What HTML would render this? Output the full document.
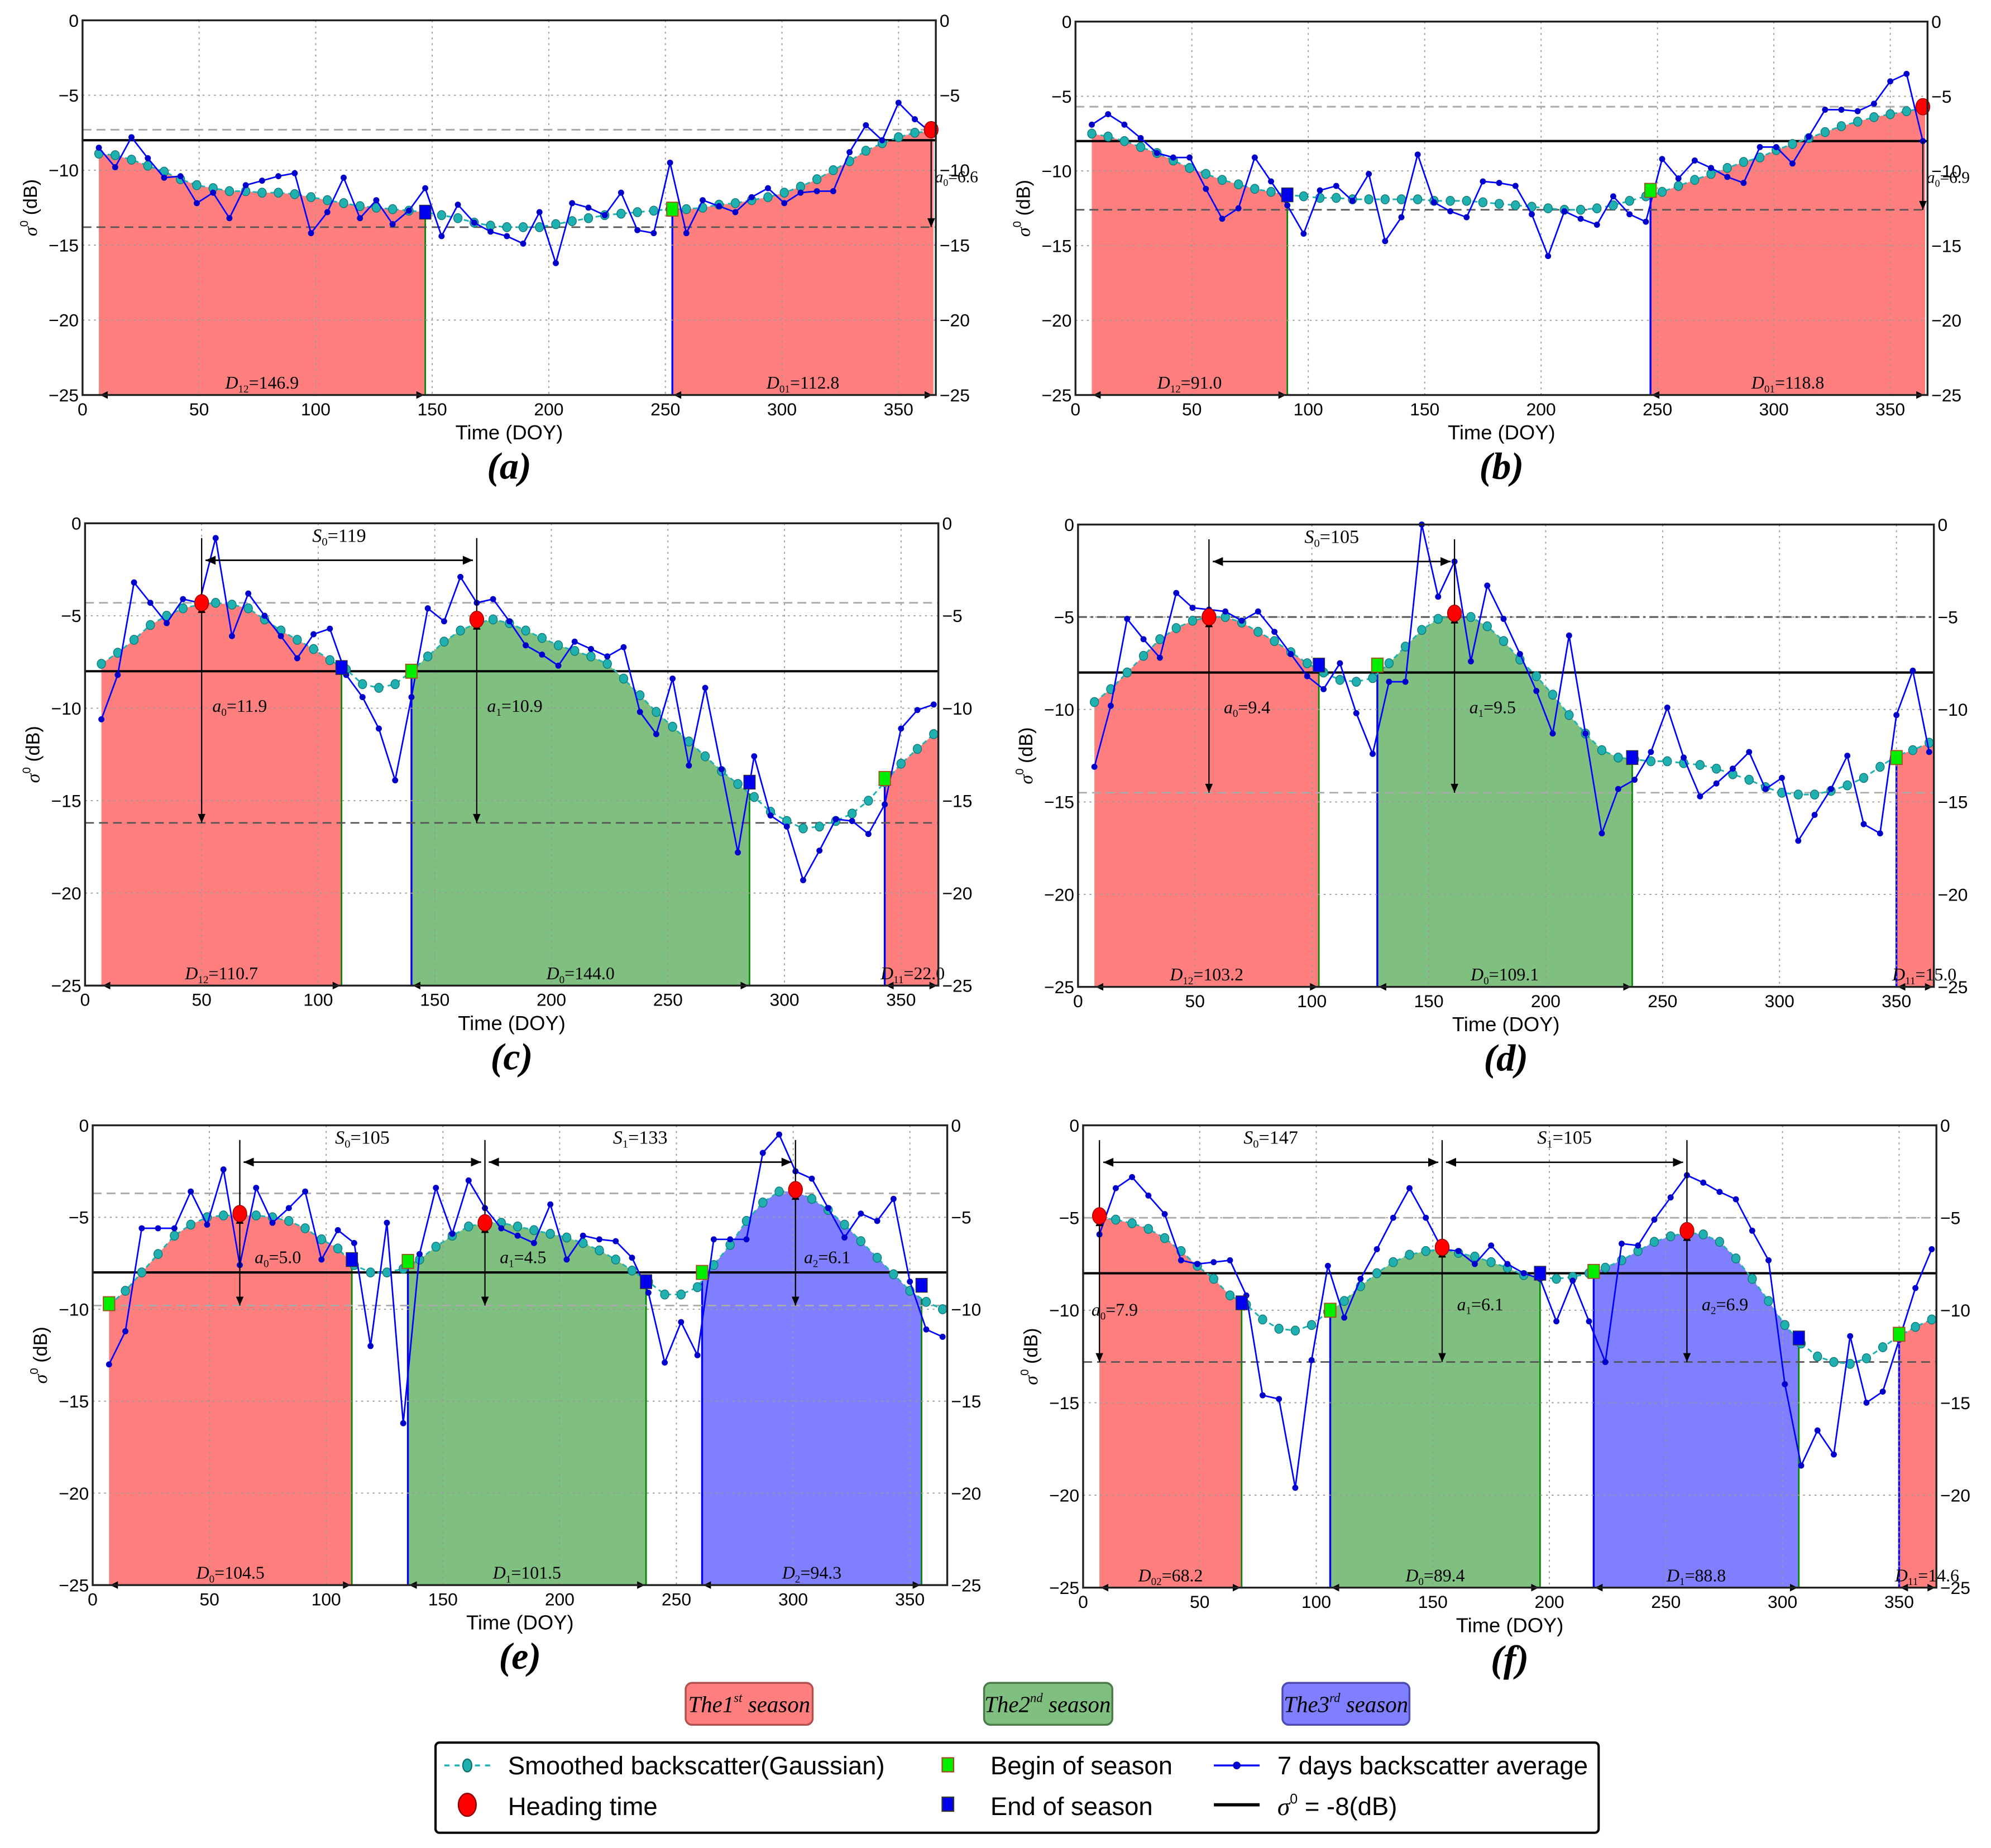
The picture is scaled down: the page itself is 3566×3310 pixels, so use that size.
<!DOCTYPE html>
<html><head><meta charset="utf-8">
<style>
html,body{margin:0;padding:0;background:#fff;}
svg{display:block;}
</style></head>
<body>
<svg id="fig" xmlns="http://www.w3.org/2000/svg" width="3566" height="3310" viewBox="0 0 1568 1455" preserveAspectRatio="none" font-family="Liberation Sans, sans-serif">
<g id="panels"></g>
<g id="legend">
  <g>
    <rect x="540" y="1325" width="100" height="33" rx="5" fill="#ff7f7f" stroke="#b05050" stroke-width="1.5"/>
    <text x="590" y="1348" text-anchor="middle" font-family="Liberation Serif, serif" font-style="italic" font-size="18">The1<tspan font-size="10" dy="-8">st</tspan><tspan dy="8"> season</tspan></text>
  </g>
  <g>
    <rect x="775" y="1325" width="101" height="33" rx="5" fill="#7fbf7f" stroke="#4a7a4a" stroke-width="1.5"/>
    <text x="825" y="1348" text-anchor="middle" font-family="Liberation Serif, serif" font-style="italic" font-size="18">The2<tspan font-size="10" dy="-8">nd</tspan><tspan dy="8"> season</tspan></text>
  </g>
  <g>
    <rect x="1010" y="1325" width="100" height="33" rx="5" fill="#7f7fff" stroke="#4a4ab0" stroke-width="1.5"/>
    <text x="1060" y="1348" text-anchor="middle" font-family="Liberation Serif, serif" font-style="italic" font-size="18">The3<tspan font-size="10" dy="-8">rd</tspan><tspan dy="8"> season</tspan></text>
  </g>
  <rect x="343" y="1372" width="916" height="71" rx="3" fill="#fff" stroke="#000" stroke-width="1.8"/>
  <g>
    <line x1="350" y1="1390" x2="386" y2="1390" stroke="#20b2b2" stroke-width="1.5" stroke-dasharray="4,4"/>
    <ellipse cx="368" cy="1390" rx="3.5" ry="5" fill="#20b0b0" stroke="#107070"/>
    <text x="400" y="1397" font-size="20">Smoothed backscatter(Gaussian)</text>
  </g>
  <g>
    <ellipse cx="368" cy="1421" rx="7" ry="9" fill="#ff0000" stroke="#800"/>
    <text x="400" y="1429" font-size="20">Heading time</text>
  </g>
  <g>
    <rect x="742" y="1384" width="9" height="11" fill="#00ee00" stroke="#a05020"/>
    <text x="780" y="1397" font-size="20">Begin of season</text>
  </g>
  <g>
    <rect x="742" y="1415" width="9" height="11" fill="#0000ee" stroke="#333"/>
    <text x="780" y="1429" font-size="20">End of season</text>
  </g>
  <g>
    <line x1="956" y1="1390" x2="992" y2="1390" stroke="#0000ff" stroke-width="1.5"/>
    <circle cx="974" cy="1390" r="3" fill="#0000cc"/>
    <text x="1006" y="1397" font-size="20">7 days backscatter average</text>
  </g>
  <g>
    <line x1="956" y1="1421" x2="992" y2="1421" stroke="#000" stroke-width="2.5"/>
    <text x="1006" y="1429" font-size="20"><tspan font-family="Liberation Serif, serif" font-style="italic">σ</tspan><tspan font-size="11" dy="-9">0</tspan><tspan dy="9"> = -8(dB)</tspan></text>
  </g>
</g>
</svg>
<script>
const days=[7,14,21,28,35,42,49,56,63,70,77,84,91,98,105,112,119,126,133,140,147,154,161,168,175,182,189,196,203,210,217,224,231,238,245,252,259,266,273,280,287,294,301,308,315,322,329,336,343,350,357,364];
const xTicks=[0,50,100,150,200,250,300,350];
const yTicks=[0,-5,-10,-15,-20,-25];

const aWeekly=[-8.5,-9.8,-7.8,-9.2,-10.5,-10.4,-12.2,-11.5,-13.2,-11,-10.7,-10.4,-10.2,-14.2,-12.8,-10.5,-13.2,-12,-13.6,-12.7,-11.2,-14.4,-12.3,-13.5,-14.1,-14.4,-14.9,-12.8,-16.2,-12.2,-12.5,-13,-11.5,-14,-14.2,-9.5,-14.2,-12,-12.4,-12.8,-11.8,-11.2,-12.2,-11.5,-11.4,-11.4,-8.8,-7,-8,-5.5,-6.6,-7.5];
const aSmooth=[-8.9,-9,-9.3,-9.7,-10.1,-10.6,-11,-11.2,-11.4,-11.4,-11.5,-11.5,-11.6,-11.8,-12,-12.2,-12.4,-12.5,-12.6,-12.7,-12.8,-13,-13.2,-13.5,-13.7,-13.8,-13.8,-13.8,-13.6,-13.4,-13.2,-13,-12.9,-12.8,-12.7,-12.6,-12.6,-12.5,-12.3,-12.2,-12,-11.8,-11.5,-11.1,-10.6,-10,-9.4,-8.7,-8.2,-7.8,-7.5,-7.4];
const bWeekly=[-6.9,-6.2,-6.9,-7.8,-8.8,-9.1,-9.1,-11.2,-13.2,-12.5,-9.1,-10.7,-12.3,-14.2,-11.3,-11,-12,-10.2,-14.7,-13.1,-8.9,-12.1,-12.7,-13.1,-10.7,-10.8,-11,-12.9,-15.7,-12.7,-13.2,-13.6,-11.7,-12.9,-13.4,-9.2,-10.5,-9.3,-9.8,-10.4,-10.8,-8.4,-8.4,-9.5,-7.7,-5.9,-5.9,-6,-5.5,-4,-3.5,-8];
const bSmooth=[-7.5,-7.7,-8,-8.4,-8.8,-9.3,-9.8,-10.2,-10.6,-10.9,-11.2,-11.4,-11.6,-11.7,-11.8,-11.8,-11.9,-11.9,-11.9,-11.9,-11.9,-12,-12,-12,-12.1,-12.2,-12.3,-12.4,-12.5,-12.6,-12.6,-12.5,-12.3,-12,-11.7,-11.4,-11,-10.6,-10.2,-9.8,-9.4,-9.1,-8.6,-8.2,-7.8,-7.4,-7,-6.7,-6.4,-6.2,-6,-5.8];
const cWeekly=[-10.6,-8.2,-3.2,-4.3,-5.4,-4.1,-4.3,-0.8,-6.1,-3.8,-5,-6.1,-7.3,-6,-5.7,-8.2,-9.4,-11.1,-13.9,-9.4,-4.6,-5.3,-2.9,-4.3,-4.1,-5.3,-6.6,-7.1,-7.7,-6.4,-6.8,-7.2,-6.7,-10.2,-11.4,-8.4,-13.1,-8.9,-13.3,-17.8,-12.6,-15.8,-16.4,-19.3,-17.7,-16,-16.1,-16.8,-15.2,-11.1,-10.1,-9.8];
const cSmooth=[-7.6,-7,-6.3,-5.5,-5,-4.6,-4.4,-4.3,-4.4,-4.6,-5.2,-5.8,-6.3,-6.8,-7.4,-7.9,-8.7,-8.9,-8.7,-8,-7.2,-6.4,-5.8,-5.4,-5.2,-5.4,-5.8,-6.2,-6.6,-6.9,-7.2,-7.6,-8.4,-9.3,-10.2,-11,-11.8,-12.6,-13.4,-14.1,-14.8,-15.6,-16.1,-16.5,-16.4,-16.1,-15.7,-15,-14,-13,-12.2,-11.4];
const dWeekly=[-13.1,-9.8,-5.1,-6.2,-7.2,-3.7,-4.5,-4.6,-4.7,-5.2,-4.7,-5.8,-7,-8.2,-8.9,-7.5,-10.2,-12.4,-8.5,-8.5,0,-3.9,-2,-7.4,-3.3,-5.1,-7,-9,-11.3,-6,-11.3,-16.7,-14.3,-13.8,-12.3,-9.9,-12.6,-14.7,-14,-13.2,-12.3,-14.3,-13.7,-17.1,-15.7,-14.3,-12.5,-16.2,-16.7,-10.3,-7.9,-12.3];
const dSmooth=[-9.6,-8.9,-8,-7.1,-6.2,-5.6,-5.2,-5,-5,-5.3,-5.8,-6.3,-6.9,-7.5,-8,-8.4,-8.5,-8.3,-7.5,-6.6,-5.7,-5.1,-4.9,-5,-5.5,-6.3,-7.3,-8.2,-9.2,-10.3,-11.3,-12.2,-12.6,-12.7,-12.8,-12.8,-12.9,-13,-13.2,-13.5,-13.8,-14.2,-14.5,-14.6,-14.6,-14.4,-14.1,-13.7,-13.1,-12.5,-12.2,-11.8];
const eWeekly=[-13,-11.2,-5.6,-5.6,-5.6,-3.6,-5.4,-2.4,-7.6,-3.4,-5.3,-4.5,-3.6,-7.3,-5.7,-6.4,-12,-5.3,-16.2,-7,-3.4,-5.9,-3,-4.5,-5.6,-6,-6.4,-4.3,-7.3,-6,-6.2,-6.3,-7.2,-9.1,-12.9,-10.7,-12.5,-6.2,-6.2,-6.2,-1.5,-0.5,-2.5,-2.9,-4.5,-6.1,-4.8,-5.2,-4,-8.5,-11.1,-11.5];
const eSmooth=[-9.8,-9,-8,-7,-6,-5.4,-5,-4.9,-4.9,-4.9,-5,-5.2,-5.6,-6.2,-6.7,-7.6,-8,-8,-7.8,-7.3,-6.6,-6,-5.5,-5.3,-5.3,-5.5,-5.7,-5.9,-6.1,-6.4,-6.8,-7.3,-7.9,-8.5,-9.2,-9.2,-8.8,-7.6,-6.5,-5.2,-4.2,-3.6,-3.6,-4,-4.6,-5.4,-6.3,-7.2,-8.1,-9,-9.6,-10];
const fWeekly=[-5.9,-3.4,-2.8,-3.8,-4.8,-7.3,-7.5,-7.4,-7.3,-9.2,-14.6,-14.8,-19.6,-12.7,-7.6,-10.4,-8.3,-6.7,-5,-3.4,-5,-6.7,-6.8,-7.5,-6.5,-7.5,-8.0,-8.3,-10.6,-8.4,-10.6,-12.8,-6.4,-6.5,-5.1,-3.9,-2.7,-3.1,-3.6,-4,-5.7,-7.3,-14,-18.4,-16.5,-17.8,-11.4,-15,-14.4,-11.6,-8.8,-6.7];
const fSmooth=[-5,-5.1,-5.3,-5.6,-6.1,-6.8,-7.6,-8.3,-9.2,-9.7,-10.5,-11,-11.1,-10.8,-10.1,-9.5,-8.7,-8,-7.4,-7,-6.8,-6.7,-6.9,-7.1,-7.4,-7.7,-8.1,-8.2,-8.3,-8.2,-8,-7.7,-7.3,-6.8,-6.3,-6,-5.8,-5.9,-6.3,-7.2,-8.3,-9.5,-10.8,-11.8,-12.5,-12.8,-12.9,-12.6,-12,-11.4,-10.9,-10.5];

const aSeasons=[[7,147,'r'],[253,365,'r']];
const bSeasons=[[7,91,'r'],[247,365,'r']];
const cSeasons=[[7,110,'r'],[140,285,'g'],[343,366,'r']];
const dSeasons=[[7,103,'r'],[128,237,'g'],[350,366,'r']];
const eSeasons=[[7,111,'r'],[135,237,'g'],[261,355,'b']];
const fSeasons=[[7,68,'r'],[106,196,'g'],[219,307,'b'],[350,366,'r']];
const aBegin=[[253,-12.6]], aEnd=[[147,-12.8]], aHead=[[364,-7.3]];
const bBegin=[[247,-11.3]], bEnd=[[91,-11.6]], bHead=[[364,-5.7]];
const cBegin=[[140,-8],[343,-13.8]], cEnd=[[110,-7.8],[285,-14]], cHead=[[50,-4.3],[168,-5.2]];
const dBegin=[[128,-7.6],[350,-12.6]], dEnd=[[103,-7.6],[237,-12.6]], dHead=[[56,-5],[161,-4.8]];
const eBegin=[[7,-9.7],[135,-7.4],[261,-8]], eEnd=[[111,-7.3],[237,-8.5],[355,-8.7]], eHead=[[63,-4.8],[168,-5.3],[301,-3.5]];
const fBegin=[[106,-10],[219,-7.9],[350,-11.3]], fEnd=[[68,-9.6],[196,-8],[307,-11.5]], fHead=[[7,-4.9],[154,-6.6],[259,-5.7]];
const aDur=['D<sub>12</sub>=146.9','D<sub>01</sub>=112.8'];
const bDur=['D<sub>12</sub>=91.0','D<sub>01</sub>=118.8'];
const cDur=['D<sub>12</sub>=110.7','D<sub>0</sub>=144.0','D<sub>11</sub>=22.0'];
const dDur=['D<sub>12</sub>=103.2','D<sub>0</sub>=109.1','D<sub>11</sub>=15.0'];
const eDur=['D<sub>0</sub>=104.5','D<sub>1</sub>=101.5','D<sub>2</sub>=94.3'];
const fDur=['D<sub>02</sub>=68.2','D<sub>0</sub>=89.4','D<sub>1</sub>=88.8','D<sub>11</sub>=14.6'];
const aAmp=['a<sub>0</sub>=6.6'], bAmp=['a<sub>0</sub>=6.9'];
const cAmp=['a<sub>0</sub>=11.9','a<sub>1</sub>=10.9'], dAmp=['a<sub>0</sub>=9.4','a<sub>1</sub>=9.5'];
const eAmp=['a<sub>0</sub>=5.0','a<sub>1</sub>=4.5','a<sub>2</sub>=6.1'], fAmp=['a<sub>0</sub>=7.9','a<sub>1</sub>=6.1','a<sub>2</sub>=6.9'];
const cSpan=['S<sub>0</sub>=119'], dSpan=['S<sub>0</sub>=105'], eSpan=['S<sub>0</sub>=105','S<sub>1</sub>=133'], fSpan=['S<sub>0</sub>=147','S<sub>1</sub>=105'];
const aLevels=[-7.3,-13.8], bLevels=[-5.7,-12.6], cLevels=[-4.3,-16.2], dLevels=[-5,-14.5], eLevels=[-3.7,-9.8], fLevels=[-5,-12.8];

const panels=[
 {id:'a',x0:65,x1:737,y0:16,y1:311,w:aWeekly,s:aSmooth,se:aSeasons,bg:aBegin,en:aEnd,hd:aHead,dur:aDur,amp:aAmp,span:[],lv:aLevels,edge:true},
 {id:'b',x0:847,x1:1518,y0:17,y1:311,w:bWeekly,s:bSmooth,se:bSeasons,bg:bBegin,en:bEnd,hd:bHead,dur:bDur,amp:bAmp,span:[],lv:bLevels,edge:true},
 {id:'c',x0:67,x1:739,y0:412,y1:776,w:cWeekly,s:cSmooth,se:cSeasons,bg:cBegin,en:cEnd,hd:cHead,dur:cDur,amp:cAmp,span:cSpan,lv:cLevels},
 {id:'d',x0:849,x1:1523,y0:413,y1:777,w:dWeekly,s:dSmooth,se:dSeasons,bg:dBegin,en:dEnd,hd:dHead,dur:dDur,amp:dAmp,span:dSpan,lv:dLevels,dashdot:true},
 {id:'e',x0:73,x1:746,y0:886,y1:1248,w:eWeekly,s:eSmooth,se:eSeasons,bg:eBegin,en:eEnd,hd:eHead,dur:eDur,amp:eAmp,span:eSpan,lv:eLevels,lightLow:true},
 {id:'f',x0:853,x1:1525,y0:886,y1:1250,w:fWeekly,s:fSmooth,se:fSeasons,bg:fBegin,en:fEnd,hd:fHead,dur:fDur,amp:fAmp,span:fSpan,lv:fLevels}
];
const FILL={r:'#ff7f7f',g:'#7fbf7f',b:'#7f7fff'};
const NS='http://www.w3.org/2000/svg';
const SERIF='Liberation Serif, serif';
function mk(tag,attrs,parent){const e=document.createElementNS(NS,tag);for(const k in attrs)e.setAttribute(k,attrs[k]);parent.appendChild(e);return e;}
function fmtSub(parent,html,x,y,size,anchor){
  const t=mk('text',{x:x,y:y,'font-size':size,'font-family':SERIF,'text-anchor':anchor||'middle'},parent);
  
  
  const m=html.match(/^(\w)<sub>(\w+)<\/sub>(.*)$/);
  const a=mk('tspan',{'font-style':'italic'},t);a.textContent=m[1];
  const b=mk('tspan',{'font-size':size*0.6,dy:3},t);b.textContent=m[2];
  const c=mk('tspan',{dy:-3},t);c.textContent=m[3];
  return t;
}
function interp(arr,d){
  if(d<=days[0])return arr[0];
  if(d>=days[days.length-1])return arr[arr.length-1];
  for(let i=0;i<days.length-1;i++){if(d>=days[i]&&d<=days[i+1]){const t=(d-days[i])/(days[i+1]-days[i]);return arr[i]+t*(arr[i+1]-arr[i]);}}
}
const root=document.getElementById('panels');
panels.forEach(p=>{
  const X=d=>p.x0+d/366*(p.x1-p.x0);
  const Y=v=>p.y0+(-v)/25*(p.y1-p.y0);
  const g=mk('g',{},root);
  
  
  p.se.forEach((s,i)=>{
    let pts=[[X(s[0]),Y(-25)]];
    pts.push([X(s[0]),Y(interp(p.s,s[0]))]);
    days.forEach((d,j)=>{if(d>s[0]&&d<s[1])pts.push([X(d),Y(p.s[j])]);});
    pts.push([X(s[1]),Y(interp(p.s,s[1]))]);
    pts.push([X(s[1]),Y(-25)]);
    const poly=mk('polygon',{points:pts.map(q=>q.join(',')).join(' '),fill:FILL[s[2]]},g);
    
    
    if(s[0]>10) mk('line',{x1:X(s[0]),y1:Y(interp(p.s,s[0])),x2:X(s[0]),y2:Y(-25),stroke:'#0000ff','stroke-width':1.5},g);
    if(s[1]<364) mk('line',{x1:X(s[1]),y1:Y(interp(p.s,s[1])),x2:X(s[1]),y2:Y(-25),stroke:'#008800','stroke-width':1.2},g);
  });
  xTicks.forEach(t=>{const l=mk('line',{x1:X(t),y1:p.y0,x2:X(t),y2:p.y1,stroke:'#999','stroke-width':0.8,'stroke-dasharray':'1.5,3'},g);
    });
  yTicks.forEach(t=>{const l=mk('line',{x1:p.x0,y1:Y(t),x2:p.x1,y2:Y(t),stroke:'#999','stroke-width':0.8,'stroke-dasharray':'1.5,3'},g);
    });
  const hi=mk('line',{x1:p.x0,y1:Y(p.lv[0]),x2:p.x1,y2:Y(p.lv[0]),stroke:p.dashdot?'#555':'#aaa','stroke-width':1.3,'stroke-dasharray':p.dashdot?'7,3,2,3':'7,4'},g);
  
  const lo=mk('line',{x1:p.x0,y1:Y(p.lv[1]),x2:p.x1,y2:Y(p.lv[1]),stroke:(p.lightLow||p.dashdot)?'#aaa':'#555','stroke-width':1.2,'stroke-dasharray':'7,4'},g);
  
  const th=mk('line',{x1:p.x0,y1:Y(-8),x2:p.x1,y2:Y(-8),stroke:'#000','stroke-width':1.8},g);
  
  const sp=mk('polyline',{points:days.map((d,i)=>X(d)+','+Y(p.s[i])).join(' '),fill:'none',stroke:'#20b2b2','stroke-width':1.3,'stroke-dasharray':'4,3'},g);
  
  days.forEach((d,i)=>{const c=mk('ellipse',{cx:X(d),cy:Y(p.s[i]),rx:3.3,ry:3.6,fill:'#20b0b0',stroke:'#107878','stroke-width':0.6},g);
    });
  const wp=mk('polyline',{points:days.map((d,i)=>X(d)+','+Y(p.w[i])).join(' '),fill:'none',stroke:'#0000ff','stroke-width':1.2},g);
  
  days.forEach((d,i)=>{const c=mk('circle',{cx:X(d),cy:Y(p.w[i]),r:2.4,fill:'#0000cc'},g);
    });
  function arrowV(x,yA,yB){mk('line',{x1:x,y1:yA,x2:x,y2:yB,stroke:'#000','stroke-width':1},g);
    mk('polygon',{points:`${x-3},${yB-7} ${x+3},${yB-7} ${x},${yB}`,fill:'#000'},g);}
  function arrowH(xa,xb,y){mk('line',{x1:xa,y1:y,x2:xb,y2:y,stroke:'#000','stroke-width':1.2},g);
    mk('polygon',{points:`${xa},${y} ${xa+8},${y-3.5} ${xa+8},${y+3.5}`,fill:'#000'},g);
    mk('polygon',{points:`${xb},${y} ${xb-8},${y-3.5} ${xb-8},${y+3.5}`,fill:'#000'},g);}
  if(p.edge){
    const x=X(364);
    mk('line',{x1:x,y1:Y(-8),x2:x,y2:Y(p.lv[1]),stroke:'#000','stroke-width':1},g);
    mk('polygon',{points:`${x-3},${Y(p.lv[1])-7} ${x+3},${Y(p.lv[1])-7} ${x},${Y(p.lv[1])}`,fill:'#000'},g);
    fmtSub(g,p.amp[0],x+20,Y(-10.8),13);
  } else {
    p.hd.forEach((h,i)=>{
      const x=X(h[0]);
      mk('line',{x1:x,y1:Y(-0.8),x2:x,y2:Y(h[1]),stroke:'#000','stroke-width':1},g);
      arrowV(x,Y(h[1]),Y(p.lv[1]));
      mk('polygon',{points:`${x-3},${Y(h[1])+8} ${x+3},${Y(h[1])+8} ${x},${Y(h[1])+1}`,fill:'#000'},g);
      const off=(p.id==='f'&&i===0)?{dx:12,dy:-10.3}:{dx:30,dy:p.id==='e'?-7.5:(p.id==='f'?-10:-10.2)};
      fmtSub(g,p.amp[i],x+off.dx+(i===2&&p.id==='e'?-5:0),Y(off.dy),14);
    });
    p.span.forEach((s,i)=>{
      const xa=X(p.hd[i][0])+3,xb=X(p.hd[i+1][0])-3,y=Y(-2);
      arrowH(xa,xb,y);
      fmtSub(g,s,(xa+xb)/2,Y(-1),15);
    });
  }
  p.se.forEach((s,i)=>{
    const xa=X(s[0]),xb=Math.min(X(s[1]),p.x1),y=Y(-25);
    mk('polygon',{points:`${xa+1},${y} ${xa+7},${y-3} ${xa+7},${y+3}`,fill:'#000'},g);
    mk('polygon',{points:`${xb-1},${y} ${xb-7},${y-3} ${xb-7},${y+3}`,fill:'#000'},g);
    let cx=(xa+xb)/2; if(s[1]-s[0]<30) cx=xa+22;
    if(p.dur[i]) fmtSub(g,p.dur[i],cx,y-5,14);
  });
  p.bg.forEach(m=>{const r=mk('rect',{x:X(m[0])-4.5,y:Y(m[1])-5.5,width:9,height:11,fill:'#00ee00',stroke:'#a05020','stroke-width':0.8},g);
    });
  p.en.forEach(m=>{const r=mk('rect',{x:X(m[0])-4.5,y:Y(m[1])-5.5,width:9,height:11,fill:'#0000ee',stroke:'#333','stroke-width':0.6},g);
    });
  p.hd.forEach(m=>{const c=mk('ellipse',{cx:X(m[0]),cy:Y(m[1]),rx:5.5,ry:6.5,fill:'#ff0000',stroke:'#900','stroke-width':0.6},g);
    });
  const fr=mk('rect',{x:p.x0,y:p.y0,width:p.x1-p.x0,height:p.y1-p.y0,fill:'none',stroke:'#222','stroke-width':1.5},g);
  
  xTicks.forEach(t=>{const tx=mk('text',{x:X(t),y:p.y1+16,'font-size':14,'text-anchor':'middle'},g);tx.textContent=t;
    });
  yTicks.forEach(t=>{
    const lab=t===0?'0':'\u2212'+(-t);
    const l=mk('text',{x:p.x0-3,y:Y(t)+5,'font-size':14,'text-anchor':'end'},g);l.textContent=lab;
    
    const r=mk('text',{x:p.x1+3,y:Y(t)+5,'font-size':14,'text-anchor':'start'},g);r.textContent=lab;
    
  });
  const xl=mk('text',{x:(p.x0+p.x1)/2,y:p.y1+35,'font-size':16,'text-anchor':'middle'},g);xl.textContent='Time (DOY)';
  
  const yc=(p.y0+p.y1)/2, yx=p.x0-36;
  const yl=mk('text',{x:yx,y:yc,'font-size':15,'text-anchor':'middle',transform:`rotate(-90 ${yx} ${yc})`},g);
  
  const s1=mk('tspan',{'font-family':SERIF,'font-style':'italic'},yl);s1.textContent='σ';
  const s2=mk('tspan',{'font-size':9,dy:-7},yl);s2.textContent='0';
  const s3=mk('tspan',{dy:7},yl);s3.textContent=' (dB)';
  const ti=mk('text',{x:(p.x0+p.x1)/2,y:p.y1+66,'font-size':30,'font-weight':'bold','font-style':'italic','font-family':SERIF,'text-anchor':'middle'},g);
  ti.textContent='('+p.id+')';
  
});
</script>
</body></html>
